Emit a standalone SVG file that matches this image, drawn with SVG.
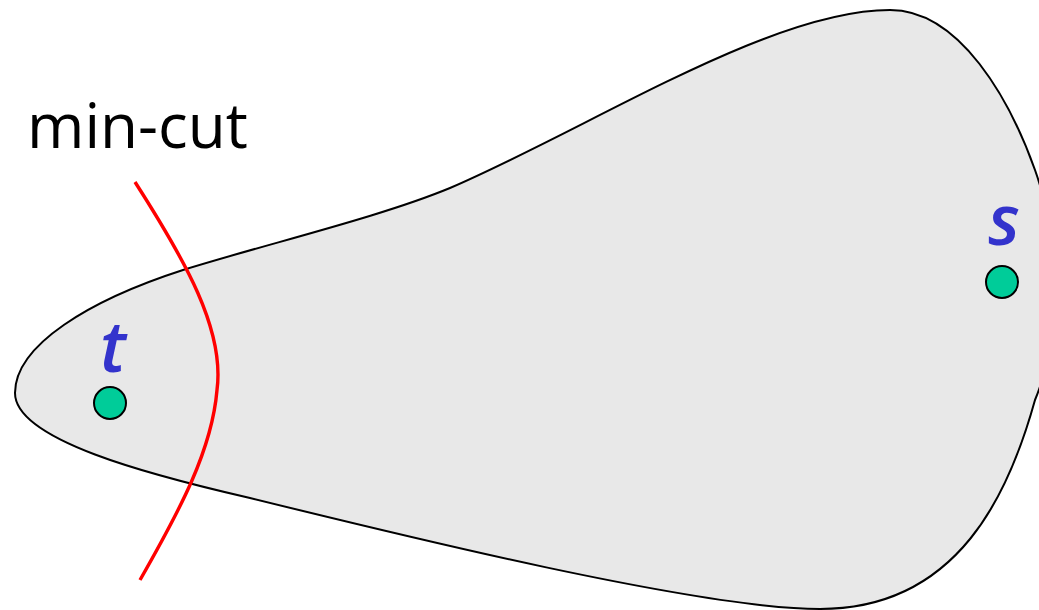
<svg xmlns="http://www.w3.org/2000/svg" width="1039" height="610" viewBox="0 0 1039 610">
<style>
.region{fill:#e8e8e8;stroke:#000;stroke-width:2}
.cut{fill:none;stroke:#ff0000;stroke-width:3.4}
.node{fill:#00cc99;stroke:#000;stroke-width:2}
.lbl{font-family:"Open Sans","Noto Sans",sans-serif;font-style:italic;font-weight:600;font-size:70px;fill:#3333cc;text-anchor:middle}
.cap{font-family:"Open Sans","Noto Sans",sans-serif;font-size:62px;fill:#000}
</style>
<g id="region">
<path class="region" d="M15,393 C15,345 90,300 183,270 C270,243 380,217 450,188 C590,128 770,10 890,10 C960,10 1010,100 1035,170 C1060,240 1060,340 1035,400 C1010,490 960,609 820,609 C700,609 400,535 250,498 C150,475 15,440 15,393 Z"/>
</g>
<g id="connectors">
<path class="cut" d="M135,182 C185,260 225,330 217,390 C212,450 180,510 140,580"/>
</g>
<g id="node-t">
<circle class="node" cx="110" cy="403" r="16"/>
<text class="lbl" x="113" y="372">t</text>
</g>
<g id="node-s">
<circle class="node" cx="1002" cy="282" r="16"/>
<text class="lbl" x="1004" y="245">s</text>
</g>
<g id="label-mincut">
<text class="cap" x="27" y="148">min-cut</text>
</g>
</svg>
